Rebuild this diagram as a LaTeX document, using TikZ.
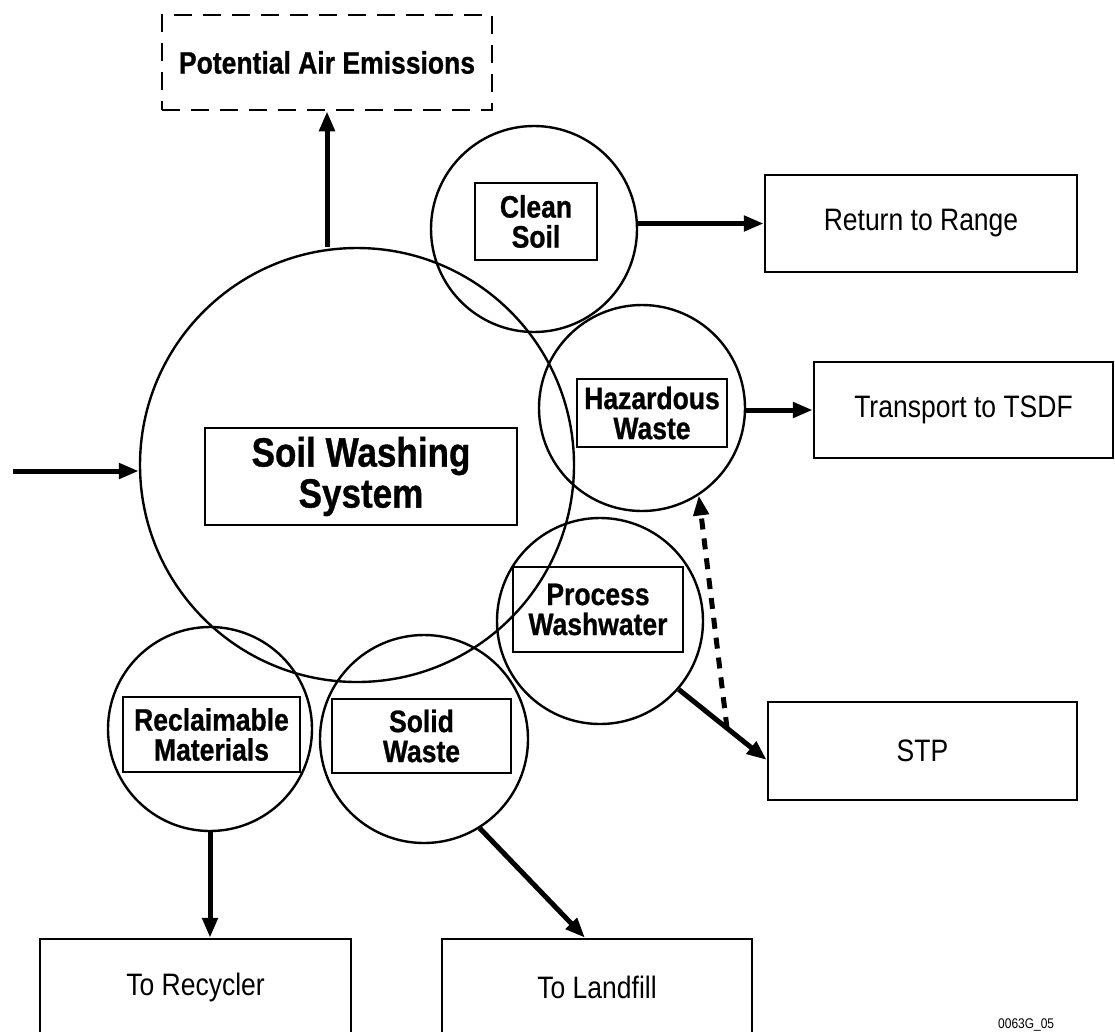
\documentclass[tikz,border=0pt]{standalone}
\usepackage{fontspec}
\setmainfont{Liberation Sans}[FakeStretch=0.855, BoldFeatures={FakeBold=0.8}]
\usetikzlibrary{arrows.meta}
\tikzset{
  circ/.style={draw, circle, line width=2.4pt, inner sep=0pt, minimum size=#1},
  lbox/.style={draw, line width=2.5pt, inner sep=0pt, align=center,
    font=\bfseries\fontsize{31}{30}\selectfont},
  obox/.style={draw, line width=2.5pt, inner sep=0pt, align=center,
    font=\fontsize{31}{36}\selectfont},
  flow/.style={line width=5pt, -{Triangle[length=20pt,width=15pt]}},
  dflow/.style={line width=5pt, dash pattern=on 11pt off 9pt, -{Triangle[length=20pt,width=15pt]}},
}
\begin{document}
\begin{tikzpicture}[x=1pt,y=-1pt]
\useasboundingbox (0,0) rectangle (1115,1031);
% circles
\node[circ=434pt] (big) at (357,465) {};
\node[circ=206pt] (clean) at (534,229) {};
\node[circ=206pt] (haz) at (642,408) {};
\node[circ=206pt] (proc) at (600,621) {};
\node[circ=204pt] (recl) at (210,729) {};
\node[circ=208pt] (solid) at (424,739) {};
% inner boxes
\node[lbox, minimum width=312pt, minimum height=97pt,
  font=\bfseries\fontsize{41}{41}\selectfont] (sws) at (361,476.5) {Soil Washing\\System};
\node[lbox, minimum width=122pt, minimum height=77pt] (cleanb) at (536,221.5) {Clean\\Soil};
\node[lbox, minimum width=150pt, minimum height=68pt] (hazb) at (652,413) {Hazardous\\Waste};
\node[lbox, minimum width=170pt, minimum height=85pt] (procb) at (598,609.5) {Process\\Washwater};
\node[lbox, minimum width=177pt, minimum height=75pt] (reclb) at (211.5,734.5) {Reclaimable\\Materials};
\node[lbox, minimum width=179pt, minimum height=74pt] (solidb) at (421.5,736) {Solid\\Waste};
% outer boxes
\node[lbox, dash pattern=on 18pt off 11pt, line width=2.5pt,
  minimum width=330pt, minimum height=95pt] (air) at (327,62.5) {Potential Air Emissions};
\node[obox, minimum width=312pt, minimum height=97pt] (ret) at (921,223.5) {Return to Range};
\node[obox, minimum width=299pt, minimum height=96pt] (tsdf) at (963.5,410) {Transport to TSDF};
\node[obox, minimum width=309pt, minimum height=98pt] (stp) at (922.5,751) {STP};
\node[obox, minimum width=311pt, minimum height=96pt] (recy) at (195.5,987) {To Recycler};
\node[obox, minimum width=310pt, minimum height=96pt] (land) at (597,987) {To Landfill};
\node[anchor=base west, font=\fontsize{14}{14}\selectfont, inner sep=0pt] (code) at (998,1028) {0063G\_05};
% connectors
\coordinate (in) at (13,471);
\coordinate (dstart) at (727,728);
\draw[flow] (in) -- (in -| big.west);
\draw[flow] (air.south |- big.north) -- (air.south);
\draw[flow] (clean.east |- ret.west) -- (ret.west);
\draw[flow] (haz.east |- tsdf.west) -- (tsdf.west);
\draw[flow] (proc.-41) -- ([yshift=-9pt]stp.west);
\draw[dflow] (dstart) -- (haz.-57);
\draw[flow] (recl.south) -- (recl.south |- recy.north);
\draw[flow] (solid.-58) -- ([xshift=-12pt]land.north);
\end{tikzpicture}
\end{document}
